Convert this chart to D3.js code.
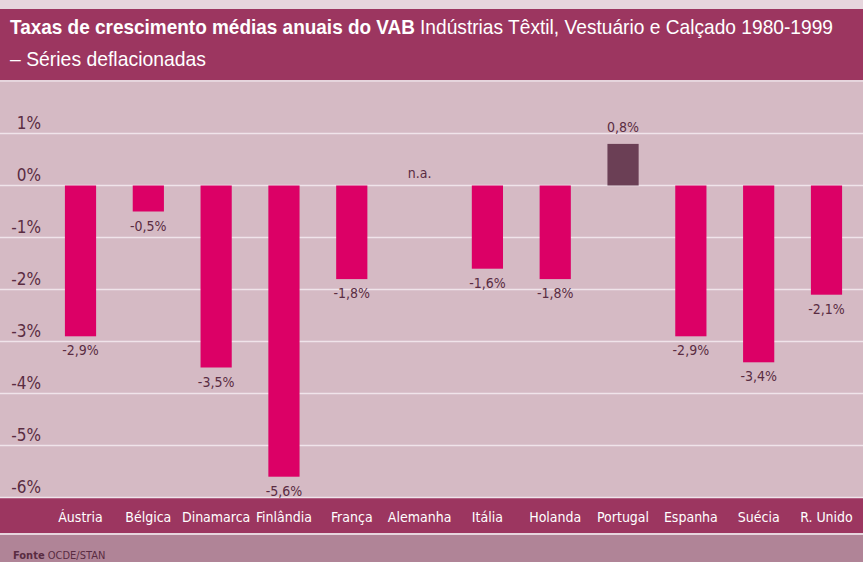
<!DOCTYPE html>
<html>
<head>
<meta charset="utf-8">
<script src="https://cdn.jsdelivr.net/npm/d3@7"></script>
<style>
  body { margin: 0; background: #e6d5dd; }
  svg { display: block; }
  text { font-family: "DejaVu Sans Condensed", "Liberation Sans", sans-serif; }
  text.title { font-family: "Liberation Sans", "Arial", sans-serif; }
</style>
</head>
<body>
<div id="chart"></div>
<script>
const countries = ["Áustria", "Bélgica", "Dinamarca", "Finlândia", "França", "Alemanha",
  "Itália", "Holanda", "Portugal", "Espanha", "Suécia", "R. Unido"];
// null = n.a.
const growth = [-2.9, -0.5, -3.5, -5.6, -1.8, null, -1.6, -1.8, 0.8, -2.9, -3.4, -2.1];
const yTicks = [1, 0, -1, -2, -3, -4, -5, -6];
const highlight = "Portugal";

const width = 863, height = 562;

const svg = d3.select("#chart").append("svg")
  .attr("width", width)
  .attr("height", height);

// background blocks
svg.append("rect").attr("x", 0).attr("y", 0).attr("width", width).attr("height", height).attr("fill", "#e6d5dd");
svg.append("rect").attr("x", 0).attr("y", 9).attr("width", width).attr("height", 71).attr("fill", "#9c3660");
svg.append("rect").attr("x", 0).attr("y", 82).attr("width", width).attr("height", 416).attr("fill", "#d5bac4");
svg.append("rect").attr("x", 0).attr("y", 498).attr("width", width).attr("height", 35).attr("fill", "#9c3660");
svg.append("rect").attr("x", 0).attr("y", 535).attr("width", width).attr("height", 27).attr("fill", "#b08497");

// title (condensed look via textLength)
svg.append("text")
  .attr("class", "title")
  .attr("x", 10)
  .attr("y", 34)
  .attr("fill", "#fff")
  .attr("textLength", 405)
  .attr("lengthAdjust", "spacingAndGlyphs")
  .style("font-size", "21px")
  .style("font-weight", "bold")
  .text("Taxas de crescimento médias anuais do VAB");
svg.append("text")
  .attr("class", "title")
  .attr("x", 420)
  .attr("y", 34)
  .attr("fill", "#fff")
  .attr("textLength", 413)
  .attr("lengthAdjust", "spacingAndGlyphs")
  .style("font-size", "21px")
  .text("Indústrias Têxtil, Vestuário e Calçado 1980-1999");
svg.append("text")
  .attr("class", "title")
  .attr("x", 10)
  .attr("y", 66)
  .attr("fill", "#fff")
  .attr("textLength", 196)
  .attr("lengthAdjust", "spacingAndGlyphs")
  .style("font-size", "21px")
  .text("– Séries deflacionadas");

const y = d3.scaleLinear().domain([1, -6]).range([133.5, 497.5]);
const x = d3.scaleBand()
  .domain(countries)
  .range([46.6, 860.4])
  .paddingInner(0.54)
  .paddingOuter(0.27);

// gridlines
svg.append("g")
  .selectAll("line")
  .data(yTicks)
  .join("line")
  .attr("x1", 0)
  .attr("x2", width)
  .attr("y1", d => y(d))
  .attr("y2", d => y(d))
  .attr("stroke", "#f0e4ea")
  .attr("stroke-width", 1.6);

// y labels
svg.append("g")
  .selectAll("text")
  .data(yTicks)
  .join("text")
  .attr("x", 41)
  .attr("y", d => y(d) - 5)
  .attr("text-anchor", "end")
  .attr("fill", "#5a2c42")
  .style("font-size", "17px")
  .text(d => d + "%");

const data = countries.map((c, i) => ({ name: c, value: growth[i] }));
const fmt = v => d3.format(".1f")(v).replace(".", ",").replace("−", "-") + "%";

// bars
svg.append("g")
  .selectAll("rect")
  .data(data.filter(d => d.value !== null))
  .join("rect")
  .attr("x", d => x(d.name))
  .attr("width", x.bandwidth())
  .attr("y", d => y(Math.max(0, d.value)))
  .attr("height", d => Math.abs(y(d.value) - y(0)))
  .attr("fill", d => d.name === highlight ? "#6b3f55" : "#dc0066");

// value labels
svg.append("g")
  .selectAll("text")
  .data(data)
  .join("text")
  .attr("x", d => x(d.name) + x.bandwidth() / 2)
  .attr("y", d => d.value === null ? y(0) - 8 : d.value < 0 ? y(d.value) + 19 : y(d.value) - 12)
  .attr("text-anchor", "middle")
  .attr("fill", "#5a2c42")
  .style("font-size", "14px")
  .text(d => d.value === null ? "n.a." : fmt(d.value));

// category labels
svg.append("g")
  .selectAll("text")
  .data(countries)
  .join("text")
  .attr("x", d => x(d) + x.bandwidth() / 2)
  .attr("y", 522)
  .attr("text-anchor", "middle")
  .attr("fill", "#fff")
  .style("font-size", "14px")
  .text(d => d);

// source
const src = svg.append("text")
  .attr("x", 13)
  .attr("y", 559)
  .attr("fill", "#5a2c42")
  .style("font-size", "11px");
src.append("tspan").style("font-weight", "bold").text("Fonte");
src.append("tspan").text(" OCDE/STAN");
</script>
</body>
</html>
